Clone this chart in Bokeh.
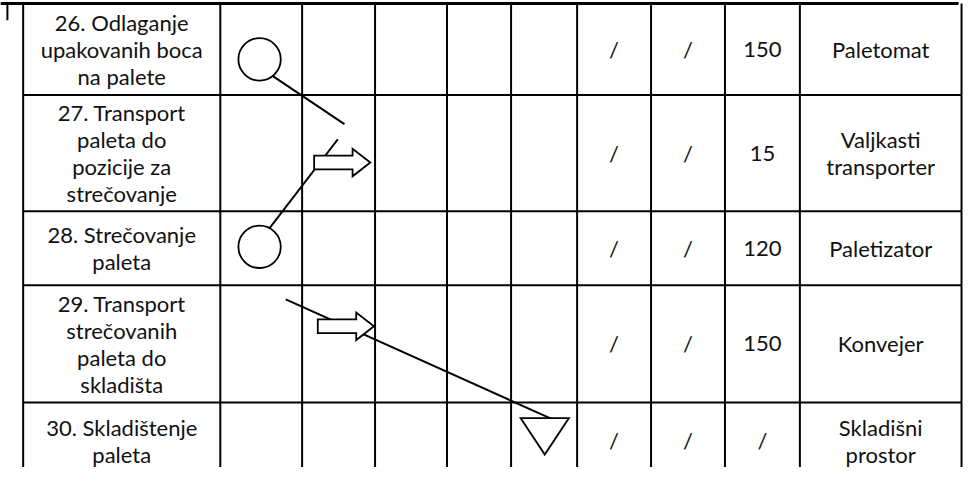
from bokeh.plotting import figure
from bokeh.models import Range1d, ColumnDataSource
from bokeh.core.properties import value
from bokeh.embed import file_html
from bokeh.resources import INLINE

# ---------------- data ----------------
step_labels = [
    "26. Odlaganje\nupakovanih boca\nna palete",
    "27. Transport\npaleta do\npozicije za\nstrečovanje",
    "28. Strečovanje\npaleta",
    "29. Transport\nstrečovanih\npaleta do\nskladišta",
    "30. Skladištenje\npaleta",
]
# symbol columns: operacija, transport, kontrola, čekanje, skladištenje
symbol_kinds = ["operacija", "transport", "kontrola", "cekanje", "skladistenje"]
step_symbols = ["operacija", "transport", "operacija", "transport", "skladistenje"]
distance = ["/", "/", "/", "/", "/"]
quantity = ["/", "/", "/", "/", "/"]
time_s = ["150", "15", "120", "150", "/"]
equipment = ["Paletomat", "Valjkasti\ntransporter", "Paletizator", "Konvejer", "Skladišni\nprostor"]

# ---------------- layout (reference pixel units) ----------------
TABLE_LEFT, TABLE_TOP = 23, 5
col_widths = [200, 83, 74, 73, 65, 67, 75, 75, 76, 164]
row_heights = [93, 118, 75, 119, 78]
col_edges = [TABLE_LEFT]
for w in col_widths:
    col_edges.append(col_edges[-1] + w)
row_edges = [TABLE_TOP]
for h in row_heights:
    row_edges.append(row_edges[-1] + h)

def cell_pt(col, row, fx, fy):
    return (col_edges[col] + fx * col_widths[col], row_edges[row] + fy * row_heights[row])

# placement of each symbol inside its cell (fraction of width / height)
symbol_fx = [0.48, 0.55, 0.48, 0.60, 0.51]
symbol_fy = [0.61, 0.58, 0.48, 0.35, 0.44]
# hand-drawn flow connectors: (col,row,fx,fy) -> (col,row,fx,fy)
connectors = [
    ((1, 0, 0.57, 0.75), (2, 1, 0.58, 0.25)),
    ((2, 1, 0.49, 0.38), (1, 2, 0.60, 0.23)),
    ((1, 3, 0.80, 0.12), (5, 4, 0.63, 0.22)),
]

FONT = "Lato"
FS = "22px"
LINE_SP = 27.5

W, H = 963, 467
p = figure(width=W, height=H, output_backend="svg", toolbar_location=None,
           x_range=Range1d(0, 977), y_range=Range1d(476, 2),
           min_border=0, tools="")
p.axis.visible = False
p.grid.visible = False
p.outline_line_color = None
p.background_fill_color = "white"
p.border_fill_color = "white"

# table lines
hx0, hx1, hy = [], [], []
for i, y in enumerate(row_edges):
    if i == 0:
        continue
    hx0.append(col_edges[0]); hx1.append(col_edges[-1]); hy.append(y)
p.segment(x0=hx0, y0=hy, x1=hx1, y1=hy, line_color="black", line_width=2)
p.segment(x0=[0], y0=[row_edges[0]], x1=[col_edges[-1] - 3], y1=[row_edges[0]],
          line_color="black", line_width=3)
p.segment(x0=col_edges, y0=[row_edges[0]] * len(col_edges), x1=col_edges,
          y1=[row_edges[-1]] * len(col_edges), line_color="black", line_width=2)
p.segment(x0=[7], y0=[row_edges[0]], x1=[7], y1=[22], line_color="black", line_width=2)

# connectors
for a, b in connectors:
    xa, ya = cell_pt(*a)
    xb, yb = cell_pt(*b)
    p.line([xa, xb], [ya, yb], line_color="black", line_width=2)

# symbols
circ_x, circ_y = [], []
for r, kind in enumerate(step_symbols):
    col = 1 + symbol_kinds.index(kind)
    cx, cy = cell_pt(col, r, symbol_fx[r], symbol_fy[r])
    if kind == "operacija":
        circ_x.append(cx); circ_y.append(cy)
    elif kind == "transport":
        L, sh, hh, hl = 57, 7, 14, 18
        x0 = cx - L / 2
        xs = [x0, x0 + L - hl, x0 + L - hl, x0 + L, x0 + L - hl, x0 + L - hl, x0]
        ys = [cy - sh, cy - sh, cy - hh, cy, cy + hh, cy + sh, cy + sh]
        p.patch(xs, ys, fill_color="white", line_color="black", line_width=1.8,
                line_join="miter")
    elif kind == "skladistenje":
        tw, th = 49, 37
        top = cy - th / 2
        p.patch([cx - tw / 2, cx + tw / 2, cx], [top, top, top + th],
                fill_color="white", line_color="black", line_width=1.8, line_join="miter")
p.circle(x=circ_x, y=circ_y, radius=21.5, fill_color="white", line_color="black",
         line_width=1.8)

# texts
tx, ty, tt = [], [], []
def add_cell_text(col, row, s):
    lines = s.split("\n")
    cx = (col_edges[col] + col_edges[col + 1]) / 2
    cy = (row_edges[row] + row_edges[row + 1]) / 2
    n = len(lines)
    for i, ln in enumerate(lines):
        tx.append(cx)
        ty.append(cy + (i - (n - 1) / 2) * LINE_SP)
        tt.append(ln)

for r in range(len(step_labels)):
    add_cell_text(0, r, step_labels[r])
    add_cell_text(6, r, distance[r])
    add_cell_text(7, r, quantity[r])
    add_cell_text(8, r, time_s[r])
    add_cell_text(9, r, equipment[r])

src = ColumnDataSource(dict(x=tx, y=ty, t=tt))
p.text(x="x", y="y", text="t", source=src, text_font=value(FONT), text_font_size=FS,
       text_align="center", text_baseline="middle", text_color="#111111")

open("out.html", "w").write(file_html(p, INLINE))
